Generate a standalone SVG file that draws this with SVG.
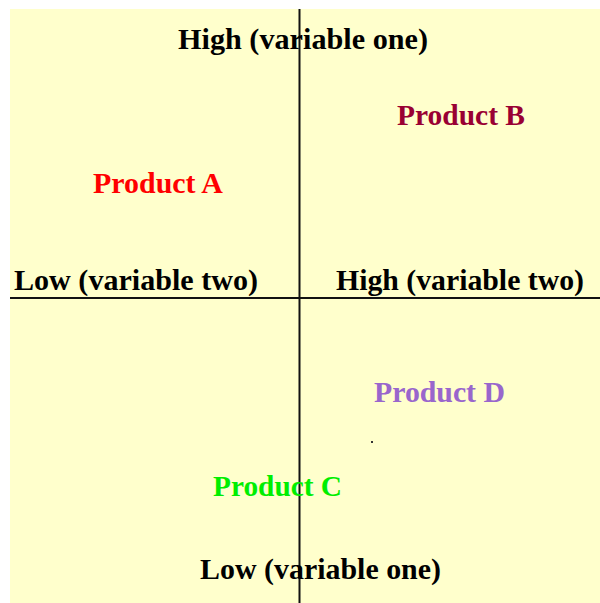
<svg xmlns="http://www.w3.org/2000/svg" width="600" height="603" viewBox="0 0 600 603">
<style>
.t{font-family:"Liberation Serif","Times New Roman",serif;font-weight:bold;font-size:29px}
.ax{stroke:#111;stroke-width:2}
</style>
<rect x="0" y="0" width="600" height="603" fill="#ffffff"/>
<rect x="10" y="9" width="590" height="594" fill="#ffffcc"/>
<g id="axes">
<line class="ax" x1="299.5" y1="9" x2="299.5" y2="603" stroke="#333"/>
<line class="ax" x1="10" y1="298" x2="600" y2="298"/>
</g>
<g id="labels">
<text class="t" x="178" y="49" textLength="250" lengthAdjust="spacingAndGlyphs">High (variable one)</text>
<text class="t" x="14" y="290" textLength="244" lengthAdjust="spacingAndGlyphs">Low (variable two)</text>
<text class="t" x="336" y="290" textLength="248" lengthAdjust="spacingAndGlyphs">High (variable two)</text>
<text class="t" x="200" y="579" textLength="241" lengthAdjust="spacingAndGlyphs">Low (variable one)</text>
</g>
<g id="productA"><text class="t" x="93" y="193" fill="#ff0000" textLength="130" lengthAdjust="spacingAndGlyphs">Product A</text></g>
<g id="productB"><text class="t" x="397" y="125" fill="#990033" textLength="128" lengthAdjust="spacingAndGlyphs">Product B</text></g>
<g id="productC"><text class="t" x="213" y="496" fill="#00ee00" textLength="129" lengthAdjust="spacingAndGlyphs">Product C</text></g>
<g id="productD"><text class="t" x="374" y="402" fill="#9966cc" textLength="131" lengthAdjust="spacingAndGlyphs">Product D</text></g>
<rect x="371" y="441" width="2" height="2" fill="#333"/>
</svg>
